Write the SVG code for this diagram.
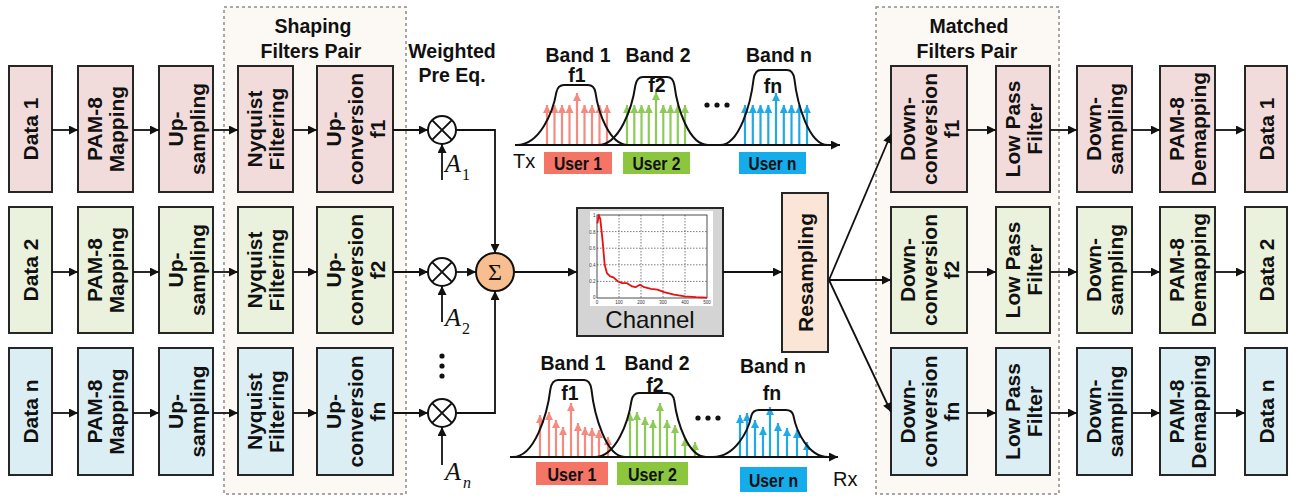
<svg xmlns="http://www.w3.org/2000/svg" width="1294" height="496" viewBox="0 0 1294 496">
  <style>
    .grp { fill: #FCF9F5; stroke: #8C8C8C; stroke-width: 1.5; stroke-dasharray: 3 3; }
    .box { stroke: #262626; stroke-width: 2; }
    .r1 { fill: #F2DCDB; }
    .r2 { fill: #EAF1DD; }
    .r3 { fill: #DBEEF4; }
    .lbl { font-family: "Liberation Sans", Arial, sans-serif; font-weight: bold; font-size: 21px; fill: #111; text-anchor: middle; }
    .ttl { font-family: "Liberation Sans", Arial, sans-serif; font-weight: bold; font-size: 19.5px; fill: #111; text-anchor: middle; }
    .reg { font-family: "Liberation Sans", Arial, sans-serif; font-size: 20px; fill: #111; }
    .usr { font-family: "Liberation Sans", Arial, sans-serif; font-weight: bold; font-size: 18px; fill: #111; text-anchor: middle; }
    .ital { font-family: "Liberation Serif", "Times New Roman", serif; font-style: italic; fill: #111; }
    .sub { font-family: "Liberation Serif", "Times New Roman", serif; fill: #111; }
    .conn { fill: none; stroke: #111; stroke-width: 1.8; }
    .band { fill: none; stroke: #111; stroke-width: 2; }
    .sr { stroke: #F68A7F; stroke-width: 2.2; }
    .sg { stroke: #8DCB58; stroke-width: 2.2; }
    .sb { stroke: #1FA9E8; stroke-width: 2.2; }
    .tick { font-family: "Liberation Sans", Arial, sans-serif; font-size: 4.5px; fill: #333; }
    .grid { stroke: #444; stroke-width: 0.7; stroke-dasharray: 1.5 1.5; }
  </style>
  <defs>
    <marker id="ah" viewBox="0 0 10 10" refX="10" refY="5" markerWidth="10" markerHeight="9" markerUnits="userSpaceOnUse" orient="auto">
      <path d="M0,0 L10,5 L0,10 z" fill="#111"/>
    </marker>
    <marker id="ahR" viewBox="0 0 10 10" refX="10" refY="5" markerWidth="9" markerHeight="8" markerUnits="userSpaceOnUse" orient="auto">
      <path d="M0,0 L10,5 L0,10 z" fill="#F68A7F"/>
    </marker>
    <marker id="ahG" viewBox="0 0 10 10" refX="10" refY="5" markerWidth="9" markerHeight="8" markerUnits="userSpaceOnUse" orient="auto">
      <path d="M0,0 L10,5 L0,10 z" fill="#8DCB58"/>
    </marker>
    <marker id="ahB" viewBox="0 0 10 10" refX="10" refY="5" markerWidth="9" markerHeight="8" markerUnits="userSpaceOnUse" orient="auto">
      <path d="M0,0 L10,5 L0,10 z" fill="#1FA9E8"/>
    </marker>
  </defs>

  <rect width="1294" height="496" fill="#FFFFFF"/>

  <!-- dashed filter-pair enclosures -->
  <g id="shaping-pair">
    <rect class="grp" x="224" y="7" width="182" height="487"/>
    <text class="ttl" x="313" y="33">Shaping</text>
    <text class="ttl" x="311" y="58">Filters Pair</text>
  </g>
  <g id="matched-pair">
    <rect class="grp" x="876" y="7" width="183" height="487"/>
    <text class="ttl" x="969" y="33">Matched</text>
    <text class="ttl" x="967" y="58">Filters Pair</text>
  </g>

  <!-- transmitter chain, row 1 -->
  <g id="tx-data1"><rect class="box r1" x="9" y="66" width="43" height="126"/><text class="lbl" transform="translate(30.5 129) rotate(-90)" y="7.5">Data 1</text></g>
  <g id="tx-pam1"><rect class="box r1" x="78" y="66" width="55" height="126"/><text class="lbl" transform="translate(105.5 129) rotate(-90)"><tspan x="0" y="-3.5">PAM-8</tspan><tspan x="0" y="18.5">Mapping</tspan></text></g>
  <g id="tx-up1"><rect class="box r1" x="159" y="66" width="54" height="126"/><text class="lbl" transform="translate(186 129) rotate(-90)"><tspan x="0" y="-3.5">Up-</tspan><tspan x="0" y="18.5">sampling</tspan></text></g>
  <g id="tx-nyq1"><rect class="box r1" x="238" y="66" width="55" height="126"/><text class="lbl" transform="translate(265.5 129) rotate(-90)"><tspan x="0" y="-3.5">Nyquist</tspan><tspan x="0" y="18.5">Filtering</tspan></text></g>
  <g id="tx-upc1"><rect class="box r1" x="317" y="66" width="76" height="126"/><text class="lbl" transform="translate(355 129) rotate(-90)"><tspan x="0" y="-14.5">Up-</tspan><tspan x="0" y="7.5">conversion</tspan><tspan x="0" y="29.5">f1</tspan></text></g>

  <!-- transmitter chain, row 2 -->
  <g id="tx-data2"><rect class="box r2" x="9" y="207" width="43" height="126"/><text class="lbl" transform="translate(30.5 270) rotate(-90)" y="7.5">Data 2</text></g>
  <g id="tx-pam2"><rect class="box r2" x="78" y="207" width="55" height="126"/><text class="lbl" transform="translate(105.5 270) rotate(-90)"><tspan x="0" y="-3.5">PAM-8</tspan><tspan x="0" y="18.5">Mapping</tspan></text></g>
  <g id="tx-up2"><rect class="box r2" x="159" y="207" width="54" height="126"/><text class="lbl" transform="translate(186 270) rotate(-90)"><tspan x="0" y="-3.5">Up-</tspan><tspan x="0" y="18.5">sampling</tspan></text></g>
  <g id="tx-nyq2"><rect class="box r2" x="238" y="207" width="55" height="126"/><text class="lbl" transform="translate(265.5 270) rotate(-90)"><tspan x="0" y="-3.5">Nyquist</tspan><tspan x="0" y="18.5">Filtering</tspan></text></g>
  <g id="tx-upc2"><rect class="box r2" x="317" y="207" width="76" height="126"/><text class="lbl" transform="translate(355 270) rotate(-90)"><tspan x="0" y="-14.5">Up-</tspan><tspan x="0" y="7.5">conversion</tspan><tspan x="0" y="29.5">f2</tspan></text></g>

  <!-- transmitter chain, row n -->
  <g id="tx-datan"><rect class="box r3" x="9" y="348" width="43" height="127"/><text class="lbl" transform="translate(30.5 411.5) rotate(-90)" y="7.5">Data n</text></g>
  <g id="tx-pamn"><rect class="box r3" x="78" y="348" width="55" height="127"/><text class="lbl" transform="translate(105.5 411.5) rotate(-90)"><tspan x="0" y="-3.5">PAM-8</tspan><tspan x="0" y="18.5">Mapping</tspan></text></g>
  <g id="tx-upn"><rect class="box r3" x="159" y="348" width="54" height="127"/><text class="lbl" transform="translate(186 411.5) rotate(-90)"><tspan x="0" y="-3.5">Up-</tspan><tspan x="0" y="18.5">sampling</tspan></text></g>
  <g id="tx-nyqn"><rect class="box r3" x="238" y="348" width="55" height="127"/><text class="lbl" transform="translate(265.5 411.5) rotate(-90)"><tspan x="0" y="-3.5">Nyquist</tspan><tspan x="0" y="18.5">Filtering</tspan></text></g>
  <g id="tx-upcn"><rect class="box r3" x="317" y="348" width="76" height="127"/><text class="lbl" transform="translate(355 411.5) rotate(-90)"><tspan x="0" y="-14.5">Up-</tspan><tspan x="0" y="7.5">conversion</tspan><tspan x="0" y="29.5">fn</tspan></text></g>

  <!-- weighted pre-equalisation -->
  <g id="pre-eq-title">
    <text class="ttl" x="452" y="58">Weighted</text>
    <text class="ttl" x="452" y="82">Pre Eq.</text>
  </g>
  <g id="mult1">
    <circle cx="442" cy="130" r="14" fill="#fff" stroke="#111" stroke-width="2"/>
    <path d="M432.1,120.1 L451.9,139.9 M451.9,120.1 L432.1,139.9" stroke="#111" stroke-width="2"/>
    <text class="ital" x="445" y="172" font-size="26">A</text><text class="sub" x="462" y="180" font-size="16">1</text>
  </g>
  <g id="mult2">
    <circle cx="442" cy="272" r="14" fill="#fff" stroke="#111" stroke-width="2"/>
    <path d="M432.1,262.1 L451.9,281.9 M451.9,262.1 L432.1,281.9" stroke="#111" stroke-width="2"/>
    <text class="ital" x="445" y="326" font-size="26">A</text><text class="sub" x="462" y="334" font-size="16">2</text>
  </g>
  <g id="mult-dots" fill="#111">
    <circle cx="442" cy="356" r="2.6"/><circle cx="442" cy="366" r="2.6"/><circle cx="442" cy="376" r="2.6"/>
  </g>
  <g id="multn">
    <circle cx="442" cy="413" r="14" fill="#fff" stroke="#111" stroke-width="2"/>
    <path d="M432.1,403.1 L451.9,422.9 M451.9,403.1 L432.1,422.9" stroke="#111" stroke-width="2"/>
    <text class="ital" x="445" y="480" font-size="26">A</text><text class="ital" x="463" y="488" font-size="16">n</text>
  </g>
  <g id="sum">
    <circle cx="495" cy="272" r="19" fill="#F8BE90" stroke="#111" stroke-width="2"/>
    <text x="495" y="280" font-family="'Liberation Serif', 'Times New Roman', serif" font-size="24" text-anchor="middle" fill="#111">Σ</text>
  </g>

  <!-- channel response -->
  <g id="channel">
    <rect x="577" y="208" width="146" height="128" fill="#D4D4D4" stroke="#262626" stroke-width="2"/>
    <rect x="590" y="211" width="123" height="95" fill="#FFFFFF"/>
    <g class="grid">
      <path d="M619,215 V298 M641,215 V298 M663,215 V298 M685,215 V298 M597,231.6 H707 M597,248.2 H707 M597,264.8 H707 M597,281.4 H707"/>
    </g>
    <rect x="597" y="215" width="110" height="83" fill="none" stroke="#222" stroke-width="0.8"/>
    <g class="tick" text-anchor="end">
      <text x="595.5" y="217">1</text><text x="595.5" y="233.5">0.8</text><text x="595.5" y="250">0.6</text><text x="595.5" y="266.5">0.4</text><text x="595.5" y="283">0.2</text><text x="595.5" y="299">0</text>
    </g>
    <g class="tick" text-anchor="middle">
      <text x="597" y="303.5">0</text><text x="619" y="303.5">100</text><text x="641" y="303.5">200</text><text x="663" y="303.5">300</text><text x="685" y="303.5">400</text><text x="707" y="303.5">500</text>
    </g>
    <polyline points="597.4,223.3 598.8,215 600.3,219.1 602.5,239.9 604.7,264.8 606.9,273.1 610.2,276.4 613.5,277.3 617.9,281.4 622.3,283.1 626.7,283.1 632.2,286.4 635.5,287.2 639.9,284.7 644.3,287.2 650.9,288.9 657.5,289.7 664.1,292.2 674,294.7 685,296.3 696,297.2 707,297.6" fill="none" stroke="#E81010" stroke-width="1.8" stroke-linejoin="round"/>
    <text x="650" y="328" font-family="'Liberation Sans', Arial, sans-serif" font-size="24" text-anchor="middle" fill="#111">Channel</text>
  </g>

  <g id="resampling">
    <rect x="782" y="193" width="46" height="159" fill="#FBE5D6" stroke="#262626" stroke-width="2"/>
    <text class="lbl" transform="translate(805 272.5) rotate(-90)" y="7.5">Resampling</text>
  </g>

  <!-- transmitted spectrum -->
  <g id="tx-spectrum">
    <g class="sr">
      <line x1="547" y1="145" x2="547" y2="105" marker-end="url(#ahR)"/><line x1="554.5" y1="145" x2="554.5" y2="105" marker-end="url(#ahR)"/><line x1="562" y1="145" x2="562" y2="105" marker-end="url(#ahR)"/><line x1="569.5" y1="145" x2="569.5" y2="105" marker-end="url(#ahR)"/><line x1="577" y1="145" x2="577" y2="93" marker-end="url(#ahR)"/><line x1="584.5" y1="145" x2="584.5" y2="105" marker-end="url(#ahR)"/><line x1="592" y1="145" x2="592" y2="105" marker-end="url(#ahR)"/><line x1="599.5" y1="145" x2="599.5" y2="105" marker-end="url(#ahR)"/><line x1="607" y1="145" x2="607" y2="105" marker-end="url(#ahR)"/>
    </g>
    <g class="sg">
      <line x1="627" y1="145" x2="627" y2="105" marker-end="url(#ahG)"/><line x1="634.3" y1="145" x2="634.3" y2="105" marker-end="url(#ahG)"/><line x1="641.5" y1="145" x2="641.5" y2="105" marker-end="url(#ahG)"/><line x1="648.8" y1="145" x2="648.8" y2="105" marker-end="url(#ahG)"/><line x1="656" y1="145" x2="656" y2="92" marker-end="url(#ahG)"/><line x1="663.3" y1="145" x2="663.3" y2="105" marker-end="url(#ahG)"/><line x1="670.5" y1="145" x2="670.5" y2="105" marker-end="url(#ahG)"/><line x1="677.8" y1="145" x2="677.8" y2="105" marker-end="url(#ahG)"/><line x1="685" y1="145" x2="685" y2="105" marker-end="url(#ahG)"/>
    </g>
    <g class="sb">
      <line x1="745" y1="145" x2="745" y2="105" marker-end="url(#ahB)"/><line x1="752.8" y1="145" x2="752.8" y2="105" marker-end="url(#ahB)"/><line x1="760.5" y1="145" x2="760.5" y2="105" marker-end="url(#ahB)"/><line x1="768.3" y1="145" x2="768.3" y2="105" marker-end="url(#ahB)"/><line x1="776" y1="145" x2="776" y2="93" marker-end="url(#ahB)"/><line x1="783.8" y1="145" x2="783.8" y2="105" marker-end="url(#ahB)"/><line x1="791.5" y1="145" x2="791.5" y2="105" marker-end="url(#ahB)"/><line x1="799.3" y1="145" x2="799.3" y2="105" marker-end="url(#ahB)"/><line x1="807" y1="145" x2="807" y2="105" marker-end="url(#ahB)"/>
    </g>
    <path class="band" d="M517,145 C539.6,145 553.1,112 556.4,92.2 Q558,85 564,85 L588,85 Q594,85 595.4,92.2 C598.1,112 609.3,145 628,145"/>
    <path class="band" d="M598,145 C619.5,145 632.3,107.6 635.4,85.2 Q637,77 643,77 L667,77 Q673,77 674.4,85.2 C677.2,107.6 688.8,145 708,145"/>
    <path class="band" d="M720,145 C739.3,145 750.8,103.8 753.6,79 Q755,70 761,70 L787,70 Q793,70 794.4,79 C797.2,103.8 808.8,145 828,145"/>
    <g fill="#111"><circle cx="707" cy="105" r="2.6"/><circle cx="717" cy="105" r="2.6"/><circle cx="727" cy="105" r="2.6"/></g>
    <text class="ttl" x="578" y="62">Band 1</text>
    <text class="ttl" x="658" y="62">Band 2</text>
    <text class="ttl" x="779" y="62">Band n</text>
    <text class="ttl" x="577" y="82">f1</text>
    <text class="ttl" x="657" y="92">f2</text>
    <text class="ttl" x="773" y="93">fn</text>
    <text class="reg" x="513" y="168">Tx</text>
    <rect x="544" y="152" width="68" height="22" fill="#F47466"/><text class="usr" x="578" y="170" textLength="48" lengthAdjust="spacingAndGlyphs">User 1</text>
    <rect x="623" y="152" width="67" height="22" fill="#8CC63F"/><text class="usr" x="656.5" y="170" textLength="48" lengthAdjust="spacingAndGlyphs">User 2</text>
    <rect x="739" y="152" width="67" height="22" fill="#14ACEA"/><text class="usr" x="772.5" y="170" textLength="48" lengthAdjust="spacingAndGlyphs">User n</text>
  </g>

  <!-- received spectrum -->
  <g id="rx-spectrum">
    <g class="sr">
      <line x1="540" y1="457" x2="540" y2="415" marker-end="url(#ahR)"/><line x1="549" y1="457" x2="549" y2="412" marker-end="url(#ahR)"/><line x1="556" y1="457" x2="556" y2="420" marker-end="url(#ahR)"/><line x1="563" y1="457" x2="563" y2="427" marker-end="url(#ahR)"/><line x1="571" y1="457" x2="571" y2="403" marker-end="url(#ahR)"/><line x1="578" y1="457" x2="578" y2="423" marker-end="url(#ahR)"/><line x1="585" y1="457" x2="585" y2="427" marker-end="url(#ahR)"/><line x1="592" y1="457" x2="592" y2="428" marker-end="url(#ahR)"/><line x1="599" y1="457" x2="599" y2="430" marker-end="url(#ahR)"/><line x1="608" y1="457" x2="608" y2="437" marker-end="url(#ahR)"/>
    </g>
    <g class="sg">
      <line x1="630" y1="457" x2="630" y2="413" marker-end="url(#ahG)"/><line x1="637" y1="457" x2="637" y2="412" marker-end="url(#ahG)"/><line x1="645" y1="457" x2="645" y2="417" marker-end="url(#ahG)"/><line x1="653" y1="457" x2="653" y2="420" marker-end="url(#ahG)"/><line x1="660" y1="457" x2="660" y2="403" marker-end="url(#ahG)"/><line x1="667" y1="457" x2="667" y2="420" marker-end="url(#ahG)"/><line x1="675" y1="457" x2="675" y2="425" marker-end="url(#ahG)"/><line x1="685" y1="457" x2="685" y2="438" marker-end="url(#ahG)"/><line x1="695" y1="457" x2="695" y2="442" marker-end="url(#ahG)"/>
    </g>
    <g class="sb">
      <line x1="740" y1="457" x2="740" y2="415" marker-end="url(#ahB)"/><line x1="747" y1="457" x2="747" y2="413" marker-end="url(#ahB)"/><line x1="755" y1="457" x2="755" y2="420" marker-end="url(#ahB)"/><line x1="763" y1="457" x2="763" y2="427" marker-end="url(#ahB)"/><line x1="770" y1="457" x2="770" y2="407" marker-end="url(#ahB)"/><line x1="778" y1="457" x2="778" y2="423" marker-end="url(#ahB)"/><line x1="787" y1="457" x2="787" y2="428" marker-end="url(#ahB)"/><line x1="797" y1="457" x2="797" y2="430" marker-end="url(#ahB)"/><line x1="807" y1="457" x2="807" y2="442" marker-end="url(#ahB)"/>
    </g>
    <path class="band" d="M513,457 C534.5,457 547.3,414.7 550.4,389.2 Q552,380 558,380 L584,380 Q590,380 591.4,389.2 C594.2,414.7 605.8,457 625,457"/>
    <path class="band" d="M595,457 C615.9,457 628.4,421.8 631.5,400.7 Q633,393 639,393 L667,393 Q673,393 674.3,400.7 C677,421.8 687.9,457 706,457"/>
    <path class="band" d="M713,457 C735,457 748.2,431.2 751.4,415.6 Q753,410 759,410 L786,410 Q792,410 793.4,415.6 C796.3,431.2 808.2,457 828,457"/>
    <g fill="#111"><circle cx="698" cy="418" r="2.6"/><circle cx="708" cy="418" r="2.6"/><circle cx="718" cy="418" r="2.6"/></g>
    <text class="ttl" x="573" y="370">Band 1</text>
    <text class="ttl" x="657" y="370">Band 2</text>
    <text class="ttl" x="773" y="373">Band n</text>
    <text class="ttl" x="570" y="400">f1</text>
    <text class="ttl" x="655" y="392">f2</text>
    <text class="ttl" x="772" y="400">fn</text>
    <text class="reg" x="833" y="486">Rx</text>
    <rect x="536" y="462" width="72" height="23" fill="#F47466"/><text class="usr" x="572" y="480.5" textLength="49" lengthAdjust="spacingAndGlyphs">User 1</text>
    <rect x="617" y="462" width="71" height="23" fill="#8CC63F"/><text class="usr" x="652.5" y="480.5" textLength="49" lengthAdjust="spacingAndGlyphs">User 2</text>
    <rect x="740" y="467" width="67" height="25" fill="#14ACEA"/><text class="usr" x="773.5" y="487" textLength="49" lengthAdjust="spacingAndGlyphs">User n</text>
  </g>

  <!-- receiver chain, row 1 -->
  <g id="rx-down1"><rect class="box r1" x="891" y="66" width="76" height="126"/><text class="lbl" transform="translate(929 129) rotate(-90)"><tspan x="0" y="-14.5">Down-</tspan><tspan x="0" y="7.5">conversion</tspan><tspan x="0" y="29.5">f1</tspan></text></g>
  <g id="rx-lpf1"><rect class="box r1" x="996" y="66" width="54" height="126"/><text class="lbl" transform="translate(1023 129) rotate(-90)"><tspan x="0" y="-3.5">Low Pass</tspan><tspan x="0" y="18.5">Filter</tspan></text></g>
  <g id="rx-ds1"><rect class="box r1" x="1077" y="66" width="55" height="126"/><text class="lbl" transform="translate(1104.5 129) rotate(-90)"><tspan x="0" y="-3.5">Down-</tspan><tspan x="0" y="18.5">sampling</tspan></text></g>
  <g id="rx-pam1"><rect class="box r1" x="1160" y="66" width="55" height="126"/><text class="lbl" transform="translate(1187.5 129) rotate(-90)"><tspan x="0" y="-3.5">PAM-8</tspan><tspan x="0" y="18.5">Demapping</tspan></text></g>
  <g id="rx-data1"><rect class="box r1" x="1245" y="66" width="42" height="126"/><text class="lbl" transform="translate(1266 129) rotate(-90)" y="7.5">Data 1</text></g>

  <!-- receiver chain, row 2 -->
  <g id="rx-down2"><rect class="box r2" x="891" y="207" width="76" height="126"/><text class="lbl" transform="translate(929 270) rotate(-90)"><tspan x="0" y="-14.5">Down-</tspan><tspan x="0" y="7.5">conversion</tspan><tspan x="0" y="29.5">f2</tspan></text></g>
  <g id="rx-lpf2"><rect class="box r2" x="996" y="207" width="54" height="126"/><text class="lbl" transform="translate(1023 270) rotate(-90)"><tspan x="0" y="-3.5">Low Pass</tspan><tspan x="0" y="18.5">Filter</tspan></text></g>
  <g id="rx-ds2"><rect class="box r2" x="1077" y="207" width="55" height="126"/><text class="lbl" transform="translate(1104.5 270) rotate(-90)"><tspan x="0" y="-3.5">Down-</tspan><tspan x="0" y="18.5">sampling</tspan></text></g>
  <g id="rx-pam2"><rect class="box r2" x="1160" y="207" width="55" height="126"/><text class="lbl" transform="translate(1187.5 270) rotate(-90)"><tspan x="0" y="-3.5">PAM-8</tspan><tspan x="0" y="18.5">Demapping</tspan></text></g>
  <g id="rx-data2"><rect class="box r2" x="1245" y="207" width="42" height="126"/><text class="lbl" transform="translate(1266 270) rotate(-90)" y="7.5">Data 2</text></g>

  <!-- receiver chain, row n -->
  <g id="rx-downn"><rect class="box r3" x="891" y="348" width="76" height="127"/><text class="lbl" transform="translate(929 411.5) rotate(-90)"><tspan x="0" y="-14.5">Down-</tspan><tspan x="0" y="7.5">conversion</tspan><tspan x="0" y="29.5">fn</tspan></text></g>
  <g id="rx-lpfn"><rect class="box r3" x="996" y="348" width="54" height="127"/><text class="lbl" transform="translate(1023 411.5) rotate(-90)"><tspan x="0" y="-3.5">Low Pass</tspan><tspan x="0" y="18.5">Filter</tspan></text></g>
  <g id="rx-dsn"><rect class="box r3" x="1077" y="348" width="55" height="127"/><text class="lbl" transform="translate(1104.5 411.5) rotate(-90)"><tspan x="0" y="-3.5">Down-</tspan><tspan x="0" y="18.5">sampling</tspan></text></g>
  <g id="rx-pamn"><rect class="box r3" x="1160" y="348" width="55" height="127"/><text class="lbl" transform="translate(1187.5 411.5) rotate(-90)"><tspan x="0" y="-3.5">PAM-8</tspan><tspan x="0" y="18.5">Demapping</tspan></text></g>
  <g id="rx-datan"><rect class="box r3" x="1245" y="348" width="42" height="127"/><text class="lbl" transform="translate(1266 411.5) rotate(-90)" y="7.5">Data n</text></g>

  <!-- connectors -->
  <g id="connectors" class="conn">
    <line x1="52" y1="130" x2="78" y2="130" marker-end="url(#ah)"/>
    <line x1="133" y1="130" x2="159" y2="130" marker-end="url(#ah)"/>
    <line x1="213" y1="130" x2="238" y2="130" marker-end="url(#ah)"/>
    <line x1="293" y1="130" x2="317" y2="130" marker-end="url(#ah)"/>
    <line x1="393" y1="130" x2="428" y2="130" marker-end="url(#ah)"/>
    <line x1="52" y1="272" x2="78" y2="272" marker-end="url(#ah)"/>
    <line x1="133" y1="272" x2="159" y2="272" marker-end="url(#ah)"/>
    <line x1="213" y1="272" x2="238" y2="272" marker-end="url(#ah)"/>
    <line x1="293" y1="272" x2="317" y2="272" marker-end="url(#ah)"/>
    <line x1="393" y1="272" x2="428" y2="272" marker-end="url(#ah)"/>
    <line x1="52" y1="413" x2="78" y2="413" marker-end="url(#ah)"/>
    <line x1="133" y1="413" x2="159" y2="413" marker-end="url(#ah)"/>
    <line x1="213" y1="413" x2="238" y2="413" marker-end="url(#ah)"/>
    <line x1="293" y1="413" x2="317" y2="413" marker-end="url(#ah)"/>
    <line x1="393" y1="413" x2="428" y2="413" marker-end="url(#ah)"/>
    <line x1="442" y1="180" x2="442" y2="144" marker-end="url(#ah)"/>
    <line x1="442" y1="322" x2="442" y2="286" marker-end="url(#ah)"/>
    <line x1="442" y1="465" x2="442" y2="427" marker-end="url(#ah)"/>
    <polyline points="456,130 495,130 495,253" marker-end="url(#ah)"/>
    <polyline points="456,413 495,413 495,291" marker-end="url(#ah)"/>
    <line x1="456" y1="272" x2="476" y2="272" marker-end="url(#ah)"/>
    <line x1="514" y1="272" x2="577" y2="272" marker-end="url(#ah)"/>
    <line x1="723" y1="272" x2="782" y2="272" marker-end="url(#ah)"/>
    <line x1="515" y1="145" x2="840" y2="145" marker-end="url(#ah)"/>
    <line x1="510" y1="457" x2="838" y2="457" marker-end="url(#ah)"/>
    <line x1="829" y1="280" x2="891" y2="134" marker-end="url(#ah)"/>
    <line x1="829" y1="280" x2="891" y2="280" marker-end="url(#ah)"/>
    <line x1="829" y1="280" x2="891" y2="412" marker-end="url(#ah)"/>
    <line x1="967" y1="130" x2="996" y2="130" marker-end="url(#ah)"/>
    <line x1="1050" y1="130" x2="1077" y2="130" marker-end="url(#ah)"/>
    <line x1="1132" y1="130" x2="1160" y2="130" marker-end="url(#ah)"/>
    <line x1="1215" y1="130" x2="1245" y2="130" marker-end="url(#ah)"/>
    <line x1="967" y1="272" x2="996" y2="272" marker-end="url(#ah)"/>
    <line x1="1050" y1="272" x2="1077" y2="272" marker-end="url(#ah)"/>
    <line x1="1132" y1="272" x2="1160" y2="272" marker-end="url(#ah)"/>
    <line x1="1215" y1="272" x2="1245" y2="272" marker-end="url(#ah)"/>
    <line x1="967" y1="413" x2="996" y2="413" marker-end="url(#ah)"/>
    <line x1="1050" y1="413" x2="1077" y2="413" marker-end="url(#ah)"/>
    <line x1="1132" y1="413" x2="1160" y2="413" marker-end="url(#ah)"/>
    <line x1="1215" y1="413" x2="1245" y2="413" marker-end="url(#ah)"/>
  </g>
</svg>
